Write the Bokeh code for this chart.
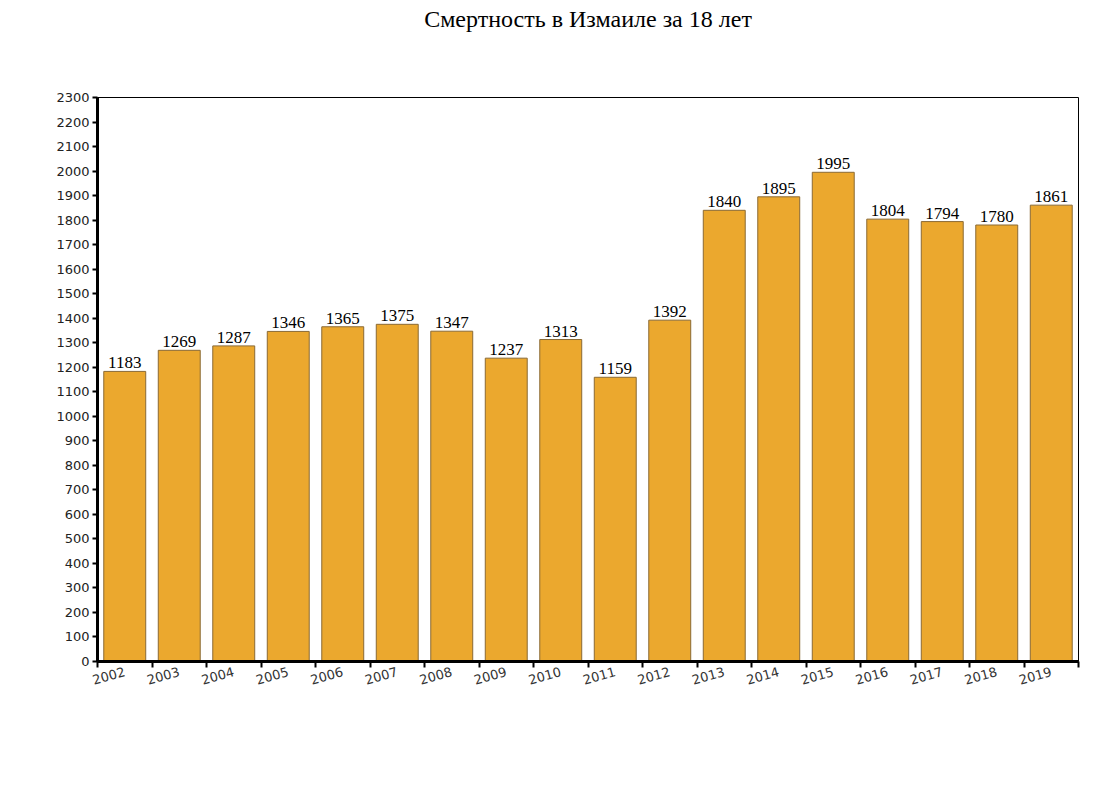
from bokeh.plotting import figure
from bokeh.models import ColumnDataSource, FixedTicker, Range1d, Title
from bokeh.core.properties import value
from bokeh.embed import file_html
from bokeh.resources import INLINE

years = ["2002", "2003", "2004", "2005", "2006", "2007", "2008", "2009", "2010",
         "2011", "2012", "2013", "2014", "2015", "2016", "2017", "2018", "2019"]
deaths = [1183, 1269, 1287, 1346, 1365, 1375, 1347, 1237, 1313,
          1159, 1392, 1840, 1895, 1995, 1804, 1794, 1780, 1861]
y_ticks = list(range(0, 2301, 100))
title_text = "Смертность в Измаиле за 18 лет"

xs = [i + 0.5 for i in range(len(years))]
src = ColumnDataSource(dict(x=xs, y=deaths, lbl=[str(v) for v in deaths]))

p = figure(width=1087, height=789, output_backend="svg", toolbar_location=None,
           x_range=Range1d(0, len(years)), y_range=Range1d(0, y_ticks[-1]),
           min_border_left=97, min_border_right=9, min_border_top=0, min_border_bottom=128)

p.title.text = title_text
p.title.align = "center"
p.title.text_font = "Liberation Serif"
p.title.text_font_size = "24px"
p.title.text_font_style = "normal"
p.title.text_color = "black"
p.title.standoff = 6

# empty spacer between the title and the plot frame
spacer = Title(text=" ", text_font="Liberation Serif", text_font_size="24px", standoff=35)
p.add_layout(spacer, "above")

p.vbar(x="x", top="y", width=0.77, bottom=0, source=src,
       fill_color="#EBA82E", line_color="#8A6A35", line_width=1)
p.text(x="x", y="y", text="lbl", source=src, y_offset=-3,
       text_align="center", text_baseline="bottom",
       text_font=value("Liberation Serif"), text_font_size="17px", text_color="black")

p.grid.visible = False
p.background_fill_color = "white"
p.border_fill_color = "white"
p.outline_line_color = "black"
p.outline_line_width = 1

# x axis
xa = p.xaxis[0]
xa.ticker = FixedTicker(ticks=xs, minor_ticks=list(range(len(years) + 1)))
xa.major_label_overrides = {x: y for x, y in zip(xs, years)}
xa.major_tick_in = 0
xa.major_tick_out = 0
xa.minor_tick_in = 0
xa.minor_tick_out = 6
xa.minor_tick_line_width = 2
xa.minor_tick_line_color = "black"
xa.axis_line_width = 3
xa.axis_line_color = "black"
xa.major_label_orientation = 0.27
xa.major_label_text_font = "DejaVu Sans"
xa.major_label_text_font_size = "13px"
xa.major_label_text_color = "#333333"
xa.major_label_standoff = 4

# y axis
ya = p.yaxis[0]
ya.ticker = FixedTicker(ticks=y_ticks, minor_ticks=[])
ya.major_tick_in = 0
ya.major_tick_out = 5
ya.major_tick_line_width = 2
ya.axis_line_width = 3
ya.axis_line_color = "black"
ya.major_label_text_font = "DejaVu Sans"
ya.major_label_text_font_size = "13px"
ya.major_label_text_color = "#222222"
ya.major_label_standoff = 3

open("out.html", "w").write(file_html(p, INLINE))
